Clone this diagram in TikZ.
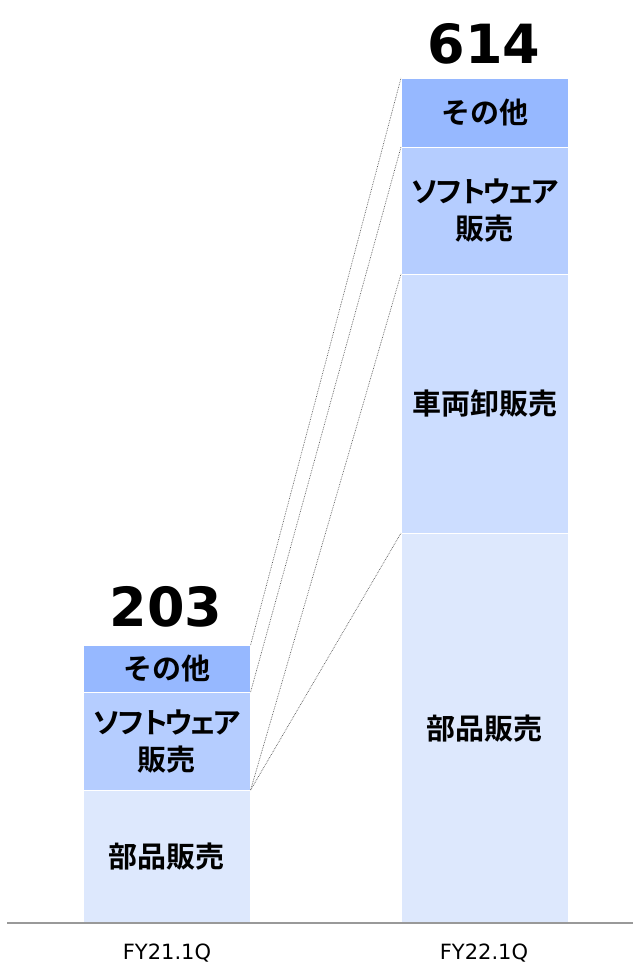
\documentclass[tikz,border=0pt]{standalone}
\usepackage{fontspec}
\setmainfont{DejaVu Sans}
\newfontfamily\jpfont{Noto Sans CJK JP}[BoldFont={Noto Sans CJK JP Bold}]
\usepackage{tikz}
\definecolor{cOther}{RGB}{150,184,255}
\definecolor{cSoft}{RGB}{181,205,255}
\definecolor{cCar}{RGB}{204,221,255}
\definecolor{cParts}{RGB}{221,232,253}
\newcommand{\tightkana}[1]{{\addfontfeatures{LetterSpace=-17}#1}}

\begin{document}
\begin{tikzpicture}[x=1pt,y=-1pt,
  seg/.style={draw=white,line width=0.6pt,anchor=north west,inner sep=0pt,
    minimum width=167,align=center,font=\jpfont\bfseries\fontsize{29}{37}\selectfont},
  total/.style={font=\bfseries\fontsize{54}{54}\selectfont},
  axlabel/.style={font=\fontsize{21}{21}\selectfont},
  link/.style={densely dotted,draw=black!65,line width=0.7pt}]
  \useasboundingbox (0,0) rectangle (633,965);
  \node[seg,fill=cOther,minimum height=47] at (83,645) (o21) {その他};
  \node[seg,fill=cSoft,minimum height=98] at (83,692) (s21) {\tightkana{ソフトウェア}\\販売};
  \node[seg,fill=cParts,minimum height=133] at (83,790) (b21) {部品販売};
  \node[seg,fill=cOther,minimum height=69] at (401,78) (o22) {その他};
  \node[seg,fill=cSoft,minimum height=127] at (401,147) (s22) {\tightkana{ソフトウェア}\\販売};
  \node[seg,fill=cCar,minimum height=259] at (401,274) (v22) {車両卸販売};
  \node[seg,fill=cParts,minimum height=390] at (401,533) (b22) {部品販売};
  \node[total] at (166,607) (t21) {203};
  \node[total] at (484,44) (t22) {614};
  \coordinate (ax0) at (7,923);
  \coordinate (ax1) at (633,923);
  \draw[black!40,line width=1.2pt] (ax0) -- (ax1);
  \node[axlabel] at (167,953) (q21) {FY21.1Q};
  \node[axlabel] at (484,953) (q22) {FY22.1Q};
  \draw[link] (o21.north east) -- (o22.north west);
  \draw[link] (s21.north east) -- (s22.north west);
  \draw[link] (b21.north east) -- (v22.north west);
  \draw[link] (b21.north east) -- (b22.north west);
\end{tikzpicture}
\end{document}
